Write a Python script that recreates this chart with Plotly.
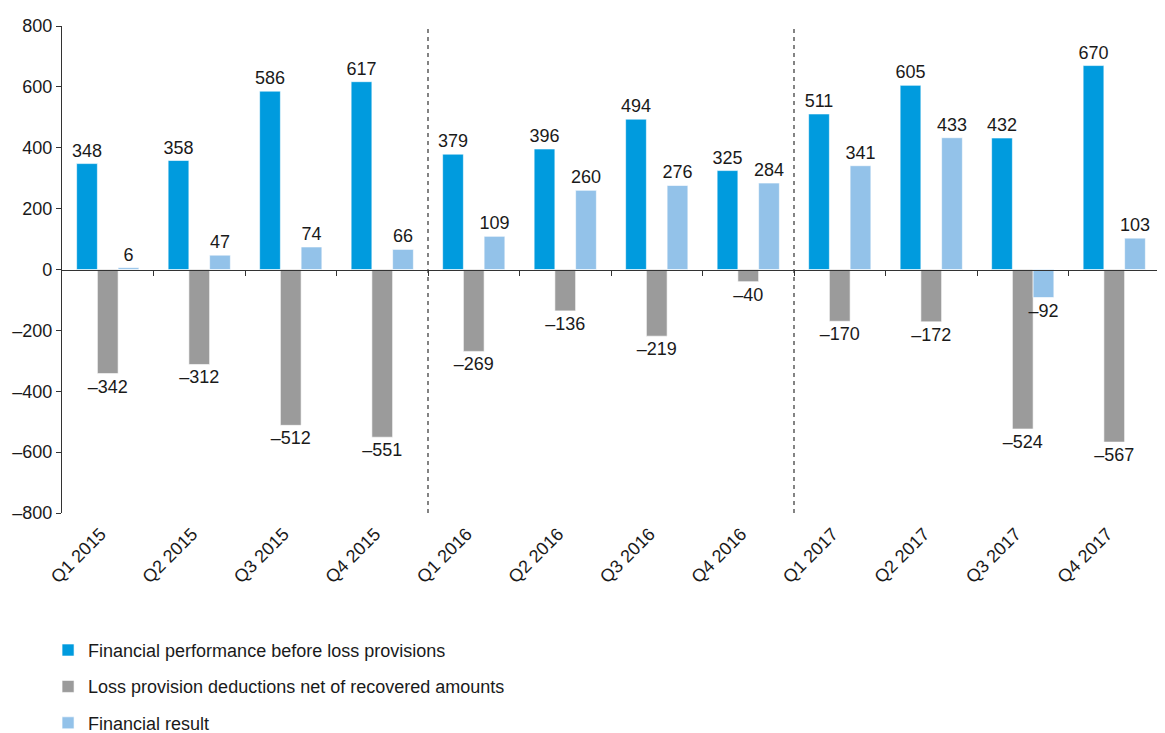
import plotly.graph_objects as go

categories = ["Q1 2015", "Q2 2015", "Q3 2015", "Q4 2015",
              "Q1 2016", "Q2 2016", "Q3 2016", "Q4 2016",
              "Q1 2017", "Q2 2017", "Q3 2017", "Q4 2017"]
perf_before = [348, 358, 586, 617, 379, 396, 494, 325, 511, 605, 432, 670]
loss_prov = [-342, -312, -512, -551, -269, -136, -219, -40, -170, -172, -524, -567]
fin_result = [6, 47, 74, 66, 109, 260, 276, 284, 341, 433, -92, 103]
y_ticks = [-800, -600, -400, -200, 0, 200, 400, 600, 800]

FONT = "Liberation Sans, Arial, sans-serif"
FS = 18


def fmt(v):
    return ("\u2013" + str(abs(v))) if v < 0 else str(v)


series = [
    ("Financial performance before loss provisions", perf_before, "#009BDE"),
    ("Loss provision deductions net of recovered amounts", loss_prov, "#9B9B9B"),
    ("Financial result", fin_result, "#93C2E9"),
]

fig = go.Figure()
idx = list(range(len(categories)))
for i, (name, vals, col) in enumerate(series):
    fig.add_trace(go.Bar(
        x=idx, y=vals, name=name,
        marker=dict(color=col, line=dict(color="white", width=0.6)),
        text=[fmt(v) for v in vals], textposition="outside",
        constraintext="none",
        textfont=dict(family=FONT, size=FS, color="#1a1a1a"),
        cliponaxis=False, legendgroup=str(i),
    ))

# axis along zero with boundary ticks
fig.add_trace(go.Scatter(x=[-0.5, 11.5], y=[0, 0], xaxis="x2", mode="lines",
                         line=dict(width=0), showlegend=False, hoverinfo="skip"))

for xv in [3.5, 7.5]:
    fig.add_shape(type="line", x0=xv, x1=xv, y0=-800, y1=800, xref="x", yref="y",
                  line=dict(color="#333333", width=1.2, dash="4px,4px"))

fig.update_layout(
    width=1157, height=725,
    margin=dict(l=54, r=5, t=18, b=220, autoexpand=False),
    plot_bgcolor="white", paper_bgcolor="white",
    barmode="group", bargap=0.32, bargroupgap=0,
    uniformtext=dict(minsize=FS, mode="show"),
    font=dict(family=FONT, size=FS, color="#1a1a1a"),
    showlegend=True,
    legend=dict(orientation="v", x=-0.0127, xanchor="left", y=-0.244, yanchor="top",
                font=dict(family=FONT, size=FS, color="#1a1a1a"),
                tracegroupgap=10, traceorder="grouped"),
    xaxis=dict(range=[-0.5, 11.5], tickvals=idx, ticktext=categories, tickangle=-45,
               showline=False, showgrid=False, zeroline=False, ticks="",
               ticklabelshift=-7, ticklabelstandoff=6,
               tickfont=dict(family=FONT, size=FS)),
    xaxis2=dict(range=[-0.5, 11.5], overlaying="x", anchor="free", position=0.5,
                side="bottom", showline=True, linecolor="#333333", linewidth=1.2,
                ticks="outside", ticklen=5, tickcolor="#333333", tickwidth=1.2,
                tickvals=[i + 0.5 for i in range(0, 11)], showticklabels=False,
                showgrid=False, zeroline=False),
    yaxis=dict(range=[-800, 800], tickvals=y_ticks, ticktext=[fmt(v) for v in y_ticks],
               showline=True, linecolor="#333333", linewidth=1.2,
               ticks="outside", ticklen=5, tickcolor="#333333",
               showgrid=False, zeroline=False, tickfont=dict(family=FONT, size=FS)),
)

fig.write_html("out.html")
